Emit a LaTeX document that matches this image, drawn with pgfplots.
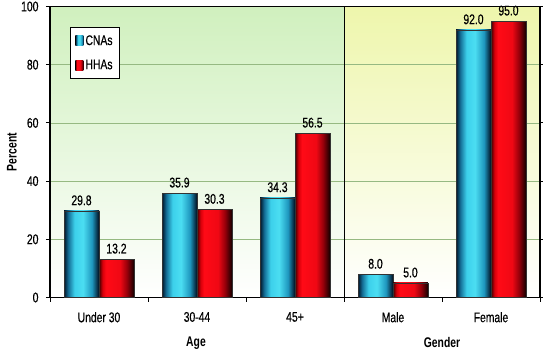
\documentclass[border=0pt]{standalone}
\usepackage{pgfplots}
\pgfplotsset{compat=1.18}
\usepackage{fontspec}
\setmainfont{Liberation Sans}[FakeStretch=0.74, UprightFeatures={FakeBold=0.5}]
\definecolor{cnaA}{RGB}{0,20,40}
\definecolor{cnaB}{RGB}{20,110,150}
\definecolor{cnaC}{RGB}{60,208,235}
\definecolor{cnaE}{RGB}{75,222,242}
\definecolor{cnaF}{RGB}{30,150,190}
\definecolor{cnaD}{RGB}{0,12,30}
\definecolor{hhaA}{RGB}{60,0,0}
\definecolor{hhaB}{RGB}{215,0,10}
\definecolor{hhaC}{RGB}{255,10,22}
\definecolor{hhaE}{RGB}{240,8,20}
\definecolor{hhaF}{RGB}{150,0,10}
\definecolor{hhaD}{RGB}{20,0,0}
\definecolor{bgG}{RGB}{208,240,190}
\definecolor{bgY}{RGB}{238,246,172}
\definecolor{gridc}{RGB}{150,185,130}
\pgfdeclarehorizontalshading{cnabar}{100bp}{color(0bp)=(cnaA); color(25bp)=(cnaA); color(31bp)=(cnaB); color(40bp)=(cnaC); color(52bp)=(cnaE); color(65bp)=(cnaF); color(75bp)=(cnaD); color(100bp)=(cnaD)}
\pgfdeclarehorizontalshading{hhabar}{100bp}{color(0bp)=(hhaA); color(25bp)=(hhaA); color(30bp)=(hhaB); color(35bp)=(hhaC); color(55bp)=(hhaE); color(65bp)=(hhaF); color(75bp)=(hhaD); color(100bp)=(hhaD)}
\newcommand{\fs}{\fontsize{14}{16}\selectfont}
\pgfplotsset{
  cna/.style={shading=cnabar, draw=black!80, line width=0.3pt, bar shift=-0.1785},
  hha/.style={shading=hhabar, draw=black!80, line width=0.3pt, bar shift=0.1785},
}
\begin{document}
\begin{tikzpicture}
\begin{axis}[
  set layers,
  at={(0,0)}, anchor=south west,
  scale only axis, width=490pt, height=291pt,
  xmin=-0.5, xmax=4.5, ymin=0, ymax=100,
  clip=false,
  ybar=0pt, bar width=0.357,
  xtick={0,1,2,3,4}, xticklabels={Under 30,30-44,45+,Male,Female},
  xtick style={draw=none},
  xticklabel style={yshift=-7pt},
  yticklabel style={xshift=-4pt},
  ytick={0,20,40,60,80,100},
  ymajorgrids, grid style={color=gridc, line width=0.6pt},
  tick align=outside, major tick length=4pt,
  ytick style={black, line width=0.8pt},
  axis line style={line width=1.3pt},
  ticklabel style={font=\fs},
  /pgf/number format/assume math mode=true,
  ylabel={Percent},
  ylabel style={font=\fs\bfseries, at={(axis description cs:-0.078,0.5)}, anchor=center},
  nodes near coords,
  every node near coord/.append style={font=\fs, black, yshift=2pt, /pgf/number format/fixed, /pgf/number format/fixed zerofill, /pgf/number format/precision=1, /pgf/number format/assume math mode=true},
  legend style={at={(axis description cs:0.041,0.93)}, anchor=north west, draw=black, line width=0.8pt, fill=white, font=\fs, row sep=9pt, inner xsep=5pt, inner ysep=6pt},
  legend cell align=left,
  legend image code/.code={\path[#1, draw=none] (0pt,-5pt) rectangle (8pt,5pt);},
]
\begin{pgfonlayer}{axis background}
\fill[top color=bgG, bottom color=white] (axis cs:-0.5,0) rectangle (axis cs:2.5,100);
\fill[top color=bgY, bottom color=white] (axis cs:2.5,0) rectangle (axis cs:4.5,100);
\end{pgfonlayer}
\addplot[cna] coordinates {(0,29.8)};
\addplot[hha] coordinates {(0,13.2)};
\addplot[cna, forget plot] coordinates {(1,35.9)};
\addplot[cna, forget plot] coordinates {(2,34.3)};
\addplot[cna, forget plot] coordinates {(3,8.0)};
\addplot[cna, forget plot] coordinates {(4,92.0)};
\addplot[hha, forget plot] coordinates {(1,30.3)};
\addplot[hha, forget plot] coordinates {(2,56.5)};
\addplot[hha, forget plot] coordinates {(3,5.0)};
\addplot[hha, forget plot] coordinates {(4,95.0)};
\legend{CNAs,HHAs}
\draw[black, line width=0.8pt] (axis cs:2.5,0) -- (axis cs:2.5,100);
\draw[black, line width=0.8pt] (axis cs:-0.5,0) -- ([yshift=-4pt]axis cs:-0.5,0);
\draw[black, line width=0.8pt] (axis cs:0.5,0) -- ([yshift=-4pt]axis cs:0.5,0);
\draw[black, line width=0.8pt] (axis cs:1.5,0) -- ([yshift=-4pt]axis cs:1.5,0);
\draw[black, line width=0.8pt] (axis cs:2.5,0) -- ([yshift=-4pt]axis cs:2.5,0);
\draw[black, line width=0.8pt] (axis cs:3.5,0) -- ([yshift=-4pt]axis cs:3.5,0);
\draw[black, line width=0.8pt] (axis cs:4.5,0) -- ([yshift=-4pt]axis cs:4.5,0);
\node[font=\fs\bfseries] at (axis description cs:0.298,-0.156) {Age};
\node[font=\fs\bfseries] at (axis description cs:0.80,-0.156) {Gender};
\end{axis}
\pgfresetboundingbox
\path (-50pt,-55.5pt) rectangle (493pt,297.5pt);
\end{tikzpicture}
\end{document}
